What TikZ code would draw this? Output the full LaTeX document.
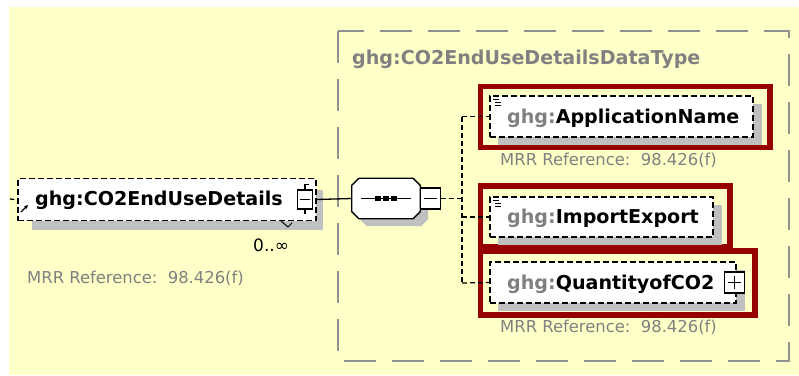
\documentclass[tikz,border=0pt]{standalone}
\usepackage{fontspec}
\setmainfont{DejaVu Sans}
\usetikzlibrary{arrows.meta}
\definecolor{bgyellow}{RGB}{255,255,200}
\definecolor{typegrey}{RGB}{128,128,128}
\definecolor{boxgrey}{RGB}{145,145,145}
\definecolor{shadowgrey}{RGB}{192,192,192}
\definecolor{hlred}{RGB}{150,0,0}
\tikzset{
  elembox/.style={draw=black, fill=white, line width=1.3pt, dash pattern=on 6pt off 3pt, inner sep=0pt},
  pmbox/.style={draw=black, fill=white, line width=1.2pt, inner sep=0pt},
  namefont/.style={font=\fontsize{19.1}{21}\selectfont\bfseries, inner sep=0pt, anchor=west},
  reffont/.style={font=\fontsize{16.4}{18}\selectfont, text=typegrey, inner sep=0pt, anchor=west},
  branch/.style={draw=black, line width=1.2pt, dash pattern=on 5pt off 3pt},
  solidcon/.style={draw=black, line width=1.3pt},
  hl/.style={draw=hlred, line width=5.5pt},
  typeframe/.style={draw=boxgrey, line width=2pt, dash pattern=on 32pt off 16pt},
}
\newcommand{\octpath}[1]{%
  ([yshift=-7pt]#1.north west) -- ([xshift=7pt]#1.north west) -- ([xshift=-7pt]#1.north east) -- ([yshift=-7pt]#1.north east)
  -- ([yshift=7pt]#1.south east) -- ([xshift=-7pt]#1.south east) -- ([xshift=7pt]#1.south west) -- ([yshift=7pt]#1.south west) -- cycle}
\begin{document}
\begin{tikzpicture}[x=1pt,y=-1pt]
\useasboundingbox (0,0) rectangle (799,375);
\fill[white] (0,0) rectangle (799,375);
\fill[bgyellow] (9,7) rectangle (799,375);
% type frame
\draw[typeframe] (338,31) rectangle (789,361);
\node[namefont, text=typegrey] (title) at (352,59) {ghg:CO2EndUseDetailsDataType};

% main element
\fill[shadowgrey] (32,190) rectangle (323,230);
\node[elembox, minimum width=298pt, minimum height=42pt] (main) at (167,199.5) {};
\node[namefont] (mainlbl) at (35,200) {ghg:CO2EndUseDetails};
\node[pmbox, minimum width=15pt, minimum height=19pt] (mainminus) at (305,199.5) {};
\draw[line width=1.2pt] ([xshift=3pt]mainminus.west) -- ([xshift=-3pt]mainminus.east);
\draw[line width=1.2pt] (mainminus.north) -- ++(0,-5) -- ++(4,0);
\draw[line width=1.2pt] (mainminus.south) -- ++(0,4);
\coordinate (stub) at (10,199);
\draw[solidcon] (stub) -- ([xshift=-3pt]main.west);
\draw[line width=1.2pt, -{Stealth[length=4pt,width=4pt]}] (21,212) -- (28,205);
\draw[line width=1pt] (281,221) -- (288,227) -- (292,223);
\node[font=\fontsize{17}{19}\selectfont, inner sep=0pt, anchor=west] (mult) at (253,245) {0..∞};
\node[reffont] (mainref) at (27,278) {MRR Reference:\ \ 98.426(f)};

% sequence compositor
\node[minimum width=68pt, minimum height=40pt, inner sep=0pt] (seqsh) at (394,206) {};
\fill[shadowgrey] \octpath{seqsh};
\node[minimum width=68pt, minimum height=40pt, inner sep=0pt] (seq) at (386,198.5) {};
\filldraw[fill=white, draw=black, line width=1.3pt] \octpath{seq};
\draw[line width=1.3pt] ([xshift=9pt]seq.west) -- ([xshift=-9pt]seq.east);
\foreach \dx in {-8,0,8} \fill ([xshift=\dx pt]seq.center) ++(-2.6,-2.6) rectangle ++(5.2,5.2);
\node[pmbox, minimum width=20pt, minimum height=21pt] (seqminus) at (430.5,198.5) {};
\draw[line width=1.2pt] ([xshift=4pt]seqminus.west) -- ([xshift=-4pt]seqminus.east);
\draw[solidcon] (main.east) -- (seq.west);

% branches
\coordinate (junc) at (462,198.5);
\coordinate (jtop) at (462,116.5);
\coordinate (jbot) at (462,283);
\draw[branch] (seqminus.east) -- (junc);
\draw[branch] (jtop) -- (jbot);

% ApplicationName
\draw[hl] (480.5,86.5) rectangle (770,147.5);
\fill[shadowgrey] (498,104) rectangle (762,145);
\node[elembox, minimum width=263pt, minimum height=41pt] (an) at (621.5,116.5) {};
\node[namefont] (anlbl) at (507,118) {\textcolor{typegrey}{ghg:}ApplicationName};
\draw[line width=1pt] (493,99) -- (499,99) (495,102) -- (501,102) (495,105) -- (501,105);
\node[reffont] (anref) at (500,160) {MRR Reference:\ \ 98.426(f)};
\draw[branch] (jtop) -- (an.west);

% ImportExport
\draw[hl] (480.5,186) rectangle (730,247);
\fill[shadowgrey] (498,205) rectangle (722,245);
\node[elembox, minimum width=223pt, minimum height=40pt] (ie) at (601.5,217) {};
\node[namefont] (ielbl) at (507,218.5) {\textcolor{typegrey}{ghg:}ImportExport};
\draw[line width=1pt] (493,200) -- (499,200) (495,203) -- (501,203) (495,206) -- (501,206);
\draw[branch] (ie.west -| jtop) -- (ie.west);

% QuantityofCO2
\draw[hl] (480.5,251) rectangle (755,315);
\fill[shadowgrey] (498,270) rectangle (745,311);
\node[elembox, minimum width=246pt, minimum height=41pt] (qc) at (613,282.5) {};
\node[namefont] (qclbl) at (507,284) {\textcolor{typegrey}{ghg:}QuantityofCO2};
\node[pmbox, minimum width=20pt, minimum height=21pt] (qcplus) at (734.5,282.5) {};
\draw[line width=1.2pt] ([xshift=4pt]qcplus.west) -- ([xshift=-4pt]qcplus.east) (qcplus.center) ++(0,-6.5) -- ++(0,13);
\node[reffont] (qcref) at (500,327) {MRR Reference:\ \ 98.426(f)};
\draw[branch] (jbot) -- (qc.west);
\end{tikzpicture}
\end{document}
